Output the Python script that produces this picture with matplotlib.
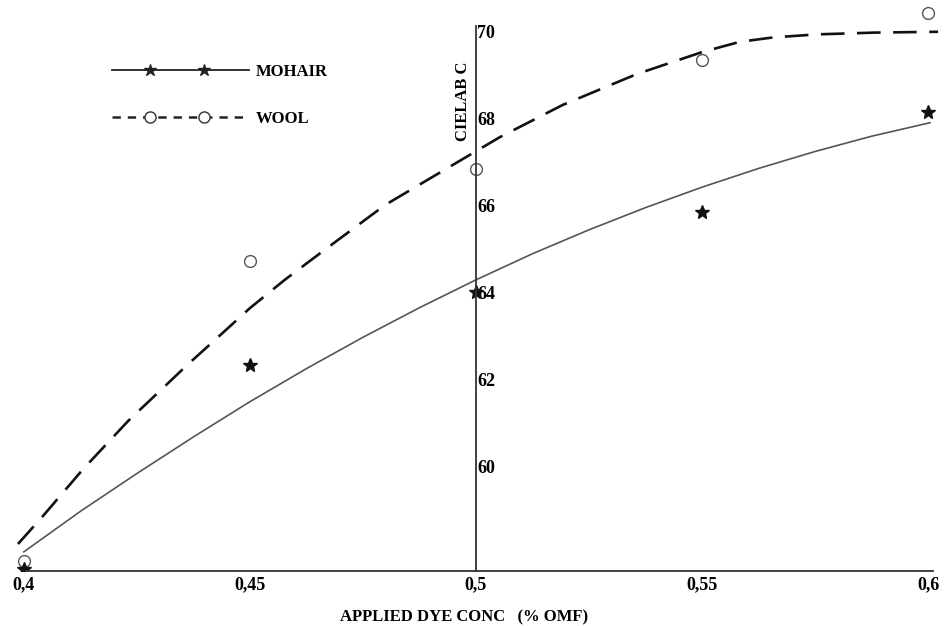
import matplotlib
matplotlib.use("Agg")
import matplotlib.pyplot as plt
from matplotlib.lines import Line2D
from matplotlib.legend_handler import HandlerLine2D

plt.rcParams['font.family'] = ['Liberation Serif', 'DejaVu Serif']
plt.rcParams['lines.scale_dashes'] = False

# measured points
conc = [0.40, 0.45, 0.50, 0.55, 0.60]
wool = [57.83, 64.73, 66.84, 69.33, 70.42]
mohair = [57.64, 62.33, 64.00, 65.84, 68.15]

# fitted curves
wool_fit_x = [0.3987, 0.4042, 0.4131, 0.4230, 0.4361, 0.4427, 0.4500, 0.4577,
              0.4659, 0.4799, 0.4960, 0.5053, 0.5192, 0.5356, 0.5502, 0.5584,
              0.5657, 0.5754, 0.5878, 0.6022]
wool_fit_y = [58.22, 58.86, 59.94, 61.04, 62.33, 62.95, 63.64, 64.29,
              64.93, 66.01, 67.00, 67.57, 68.31, 69.02, 69.53, 69.76,
              69.86, 69.93, 69.97, 69.99]
mohair_fit_x = [0.4000, 0.4125, 0.4250, 0.4375, 0.4500, 0.4625, 0.4750, 0.4875, 0.5000,
                0.5125, 0.5250, 0.5375, 0.5500, 0.5625, 0.5750, 0.5875, 0.6004]
mohair_fit_y = [58.04, 58.97, 59.84, 60.68, 61.49, 62.25, 62.97, 63.65, 64.29,
                64.89, 65.44, 65.95, 66.42, 66.85, 67.24, 67.59, 67.90]

xticks = [0.4, 0.45, 0.5, 0.55, 0.6]
xticklabels = ['0,4', '0,45', '0,5', '0,55', '0,6']
yticks = [60, 62, 64, 66, 68, 70]


class SpacedMarkers(HandlerLine2D):
    # full-length legend line with two markers set inside it
    def create_artists(self, legend, orig_handle, xdescent, ydescent,
                       width, height, fontsize, trans):
        y = height / 2 - ydescent
        line = Line2D([-xdescent, -xdescent + width], [y, y])
        self.update_prop(line, orig_handle, legend)
        line.set_marker('None')
        marks = Line2D([-xdescent + 0.28 * width, -xdescent + 0.67 * width], [y, y])
        self.update_prop(marks, orig_handle, legend)
        marks.set_linestyle('None')
        line.set_transform(trans)
        marks.set_transform(trans)
        return [line, marks]


fig = plt.figure(figsize=(9.45, 6.26), dpi=100)
ax = fig.add_axes([8 / 945, 55 / 626, 936 / 945, 571 / 626])

ax.plot(wool_fit_x, wool_fit_y, color='#111111', lw=1.9, dashes=(17, 9))
ax.plot(mohair_fit_x, mohair_fit_y, color='#555555', lw=1.2)
ax.plot(conc, wool, 'o', ms=8.5, mfc='white', mec='#555555', mew=1.0)
ax.plot(conc, mohair, '*', ms=10, color='#111111')

ax.set_xlim(0.3965, 0.6035)
ax.set_ylim(57.60, 70.72)

for s in ['top', 'left']:
    ax.spines[s].set_visible(False)
ax.spines['right'].set_position(('data', 0.5))
ax.spines['right'].set_bounds(57.60, 70.12)
ax.spines['bottom'].set_bounds(0.4005, 0.6011)
for s in ['right', 'bottom']:
    ax.spines[s].set_color('#333333')
    ax.spines[s].set_linewidth(1.3)

ax.yaxis.tick_right()
ax.set_yticks(yticks)
ax.set_yticklabels([str(v) for v in yticks], fontsize=13, fontweight='bold')
ax.tick_params(axis='y', length=0, pad=1)
ax.set_xticks(xticks)
ax.set_xticklabels(xticklabels, fontsize=13, fontweight='bold')
ax.tick_params(axis='x', length=0, pad=4)

fig.text(463 / 945, 1 - 101 / 626, 'CIELAB C', rotation=90, ha='center', va='center',
         fontsize=12, fontweight='bold')
fig.text(464 / 945, 1 - 617 / 626, 'APPLIED DYE CONC   (% OMF)', ha='center', va='center',
         fontsize=12, fontweight='bold')

h_mohair = Line2D([], [], color='#222222', lw=1.3, marker='*', ms=9)
h_wool = Line2D([], [], color='#222222', lw=1.8, dashes=(6, 5), marker='o', ms=8,
                mfc='white', mec='#333333')
leg = ax.legend([h_mohair, h_wool], ['MOHAIR', 'WOOL'],
                handler_map={Line2D: SpacedMarkers()},
                loc='upper left', bbox_to_anchor=(112 / 945, 1 - 64 / 626),
                bbox_transform=fig.transFigure, frameon=False,
                borderpad=0, borderaxespad=0,
                handlelength=8.2, handletextpad=0.45, labelspacing=1.85,
                prop={'size': 12, 'weight': 'bold'})

fig.savefig('out.png', dpi=100)
